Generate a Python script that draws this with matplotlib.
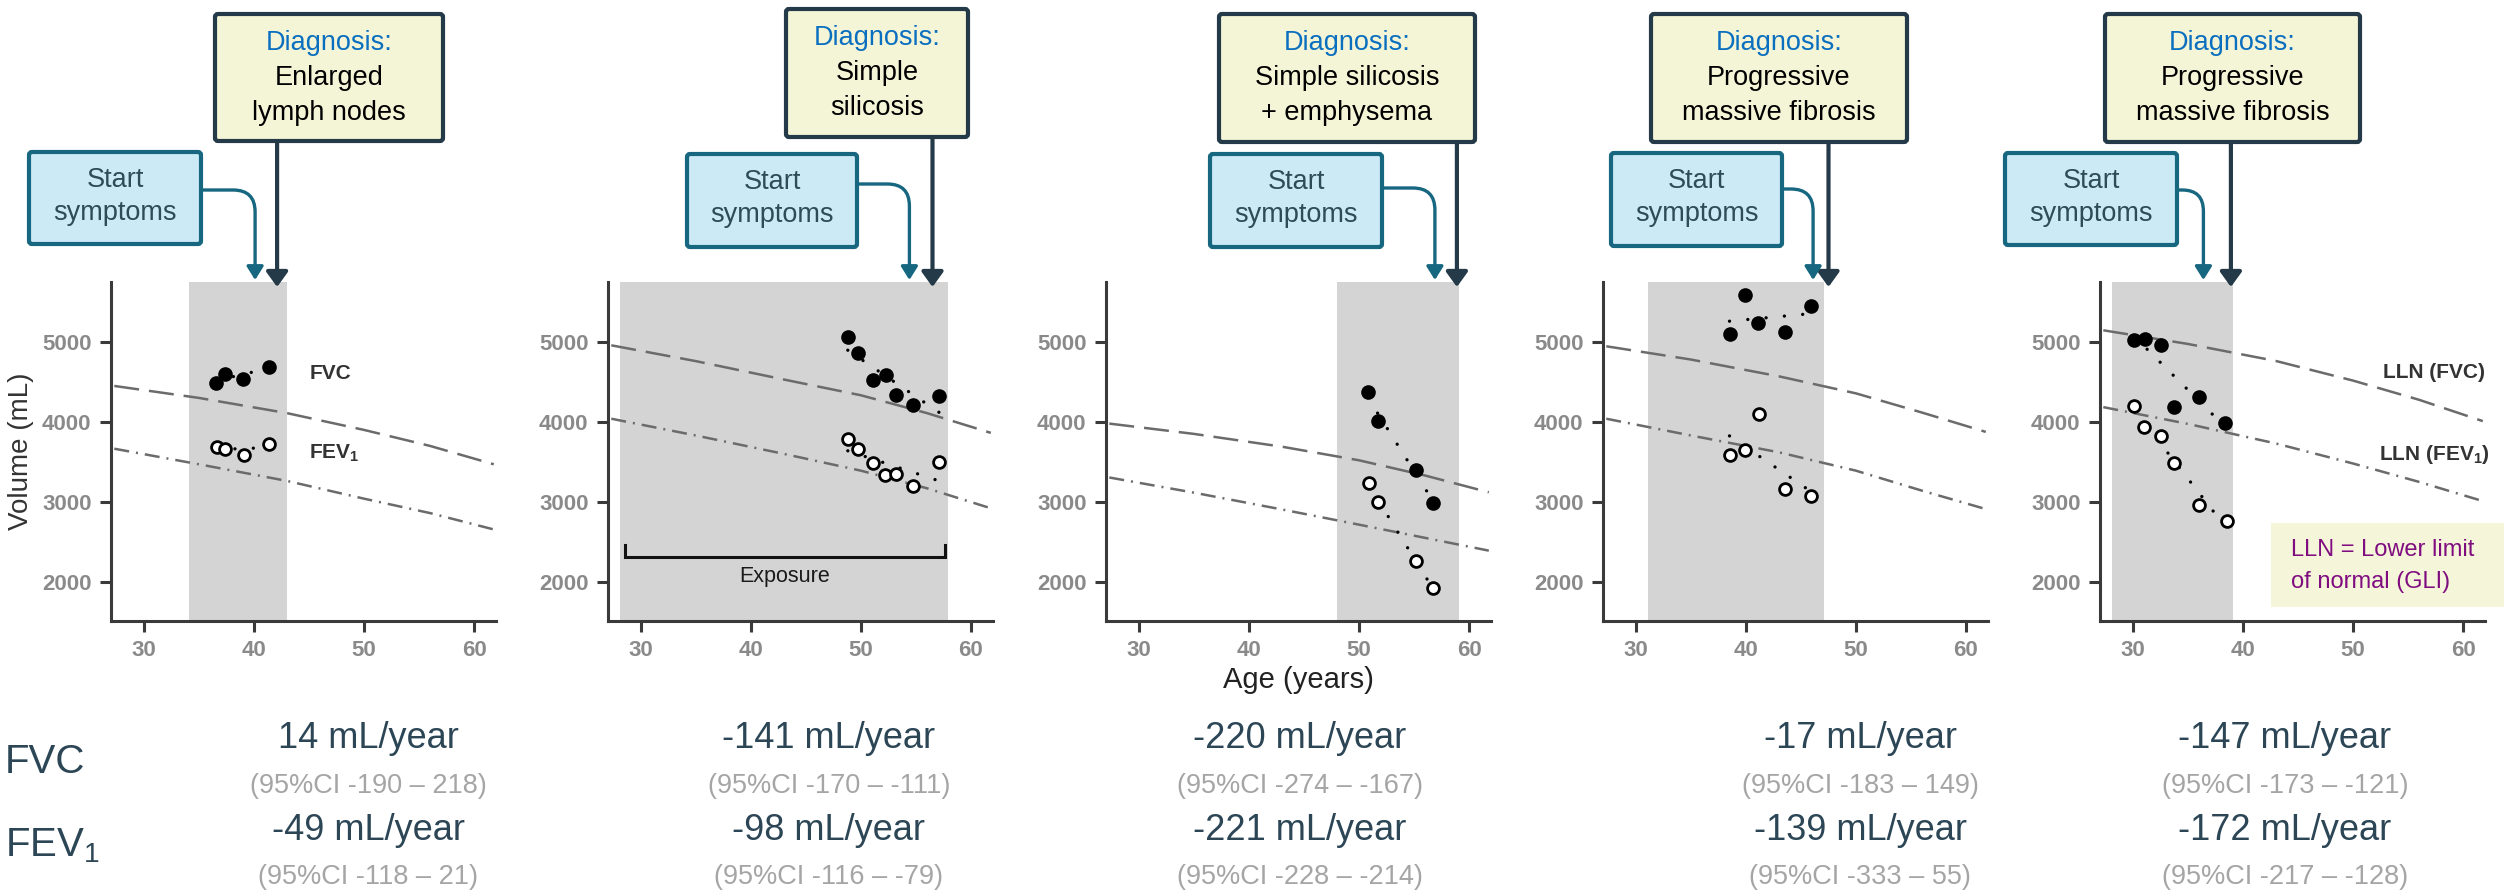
import numpy as np
import matplotlib.pyplot as plt
from matplotlib.patches import FancyBboxPatch, FancyArrowPatch, Rectangle
from matplotlib.path import Path

W, H = 2504, 894
plt.rcParams['font.family'] = ['Liberation Sans', 'DejaVu Sans']
plt.rcParams['mathtext.default'] = 'regular'

# ---------------- data ----------------
diag_text = ['Enlarged\nlymph nodes', 'Simple\nsilicosis', 'Simple silicosis\n+ emphysema',
             'Progressive\nmassive fibrosis', 'Progressive\nmassive fibrosis']
symptom_age = [40.1, 54.4, 56.9, 46.1, 36.4]
diagnosis_age = [42.1, 56.5, 58.9, 47.5, 38.9]
shade_from = [34.1, 28.1, 48.0, 31.1, 28.1]
shade_to = [43.0, 57.9, 59.1, 47.1, 39.1]

fvc_age = [[36.5, 37.4, 39.0, 41.4],
           [48.8, 49.7, 51.1, 52.3, 53.2, 54.7, 57.1],
           [50.8, 51.7, 55.2, 56.7],
           [38.5, 39.9, 41.1, 43.5, 45.9],
           [30.1, 31.1, 32.5, 33.7, 36.0, 38.4]]
fvc_val = [[4490, 4605, 4542, 4688],
           [5062, 4867, 4521, 4592, 4333, 4208, 4325],
           [4375, 4009, 3396, 2992],
           [5104, 5592, 5242, 5121, 5450],
           [5029, 5042, 4958, 4188, 4313, 3992]]
fev1_age = [[36.6, 37.4, 39.1, 41.4],
            [48.8, 49.7, 51.1, 52.2, 53.2, 54.7, 57.1],
            [50.9, 51.7, 55.2, 56.7],
            [38.5, 39.9, 41.2, 43.5, 45.9],
            [30.1, 31.0, 32.5, 33.7, 36.0, 38.5]]
fev1_val = [[3688, 3667, 3584, 3721],
            [3792, 3659, 3488, 3342, 3354, 3196, 3496],
            [3230, 3000, 2263, 1917],
            [3592, 3646, 4096, 3167, 3075],
            [4196, 3938, 3825, 3492, 2967, 2763]]

lln_age = [27.3, 35, 43, 50, 56, 61.8]
lln_fvc = [[4450, 4300, 4110, 3900, 3700, 3470],
           [4958, 4760, 4530, 4333, 4110, 3863],
           [3979, 3850, 3690, 3520, 3330, 3120],
           [4946, 4780, 4570, 4357, 4117, 3875],
           [5146, 4975, 4762, 4517, 4277, 4010]]
lln_fev1 = [[3665, 3470, 3262, 3040, 2860, 2655],
            [4040, 3830, 3600, 3390, 3170, 2920],
            [3305, 3115, 2905, 2715, 2550, 2390],
            [4040, 3830, 3620, 3390, 3140, 2910],
            [4185, 3975, 3730, 3480, 3250, 3010]]

fvc_slope = ['14 mL/year', '-141 mL/year', '-220 mL/year', '-17 mL/year', '-147 mL/year']
fvc_ci = ['(95%CI -190 – 218)', '(95%CI -170 – -111)', '(95%CI -274 – -167)',
          '(95%CI -183 – 149)', '(95%CI -173 – -121)']
fev1_slope = ['-49 mL/year', '-98 mL/year', '-221 mL/year', '-139 mL/year', '-172 mL/year']
fev1_ci = ['(95%CI -118 – 21)', '(95%CI -116 – -79)', '(95%CI -228 – -214)',
           '(95%CI -333 – 55)', '(95%CI -217 – -128)']

exposure_span = (28.5, 57.6)
exposure_y = 2312

# ---------------- layout (pixels) ----------------
ax_left = [111, 608, 1106, 1603, 2100]
ax_w, ax_top, ax_bot = 385, 282, 621
diag_box = [(215, 14, 443, 141), (786, 9, 968, 137), (1219, 14, 1475, 142),
            (1651, 14, 1907, 142), (2105, 14, 2360, 142)]
start_box = [(29, 152, 201, 244), (687, 154, 857, 247), (1210, 154, 1382, 247),
             (1611, 153, 1782, 246), (2005, 153, 2177, 245)]
conn_y = [190, 184, 188, 189, 190]
col_x = [368, 829, 1300, 1860, 2285]

DARK = '#243A48'
TEAL = '#176780'
LLN_C = '#6B6B6B'

fig = plt.figure(figsize=(W / 100, H / 100), dpi=100)

axes = []
for i in range(5):
    ax = fig.add_axes([ax_left[i] / W, (H - ax_bot) / H, ax_w / W, (ax_bot - ax_top) / H])
    axes.append(ax)
    ax.set_xlim(27, 62)
    ax.set_ylim(1510, 5750)
    ax.axvspan(shade_from[i], shade_to[i], color='#D4D4D4', lw=0, zorder=0)

    ax.plot(lln_age, lln_fvc[i], color=LLN_C, lw=1.8, dashes=(10, 4), zorder=2)
    ax.plot(lln_age, lln_fev1[i], color=LLN_C, lw=1.8, dashes=(6, 2.8, 0.8, 2.8), zorder=2)

    for xa, ya, filled in ((fvc_age[i], fvc_val[i], True), (fev1_age[i], fev1_val[i], False)):
        c = np.polyfit(xa, ya, 1)
        xs = np.array([min(xa), max(xa)])
        ax.plot(xs, np.polyval(c, xs), color='black', lw=2.4, linestyle=(0, (0.01, 5.5)),
                dash_capstyle='round', zorder=3)
        if filled:
            ax.plot(xa, ya, 'o', ms=9.5, mfc='black', mec='black', zorder=4)
        else:
            ax.plot(xa, ya, 'o', ms=8.5, mfc='white', mec='black', mew=2, zorder=4)

    ax.set_xticks([30, 40, 50, 60])
    ax.set_yticks([2000, 3000, 4000, 5000])
    for s in ('top', 'right'):
        ax.spines[s].set_visible(False)
    for s in ('left', 'bottom'):
        ax.spines[s].set_color('#3A3A3A')
        ax.spines[s].set_linewidth(2.2)
    ax.tick_params(length=8, width=2.2, color='#3A3A3A', labelsize=16, labelcolor='#8A8A8A', pad=6)
    for lab in ax.get_xticklabels() + ax.get_yticklabels():
        lab.set_fontweight('bold')
    ax.patch.set_alpha(0)

axes[0].set_ylabel('Volume (mL)', fontsize=20, color='#333333', labelpad=6)
axes[2].set_xlabel('Age (years)', fontsize=21, color='#222222', labelpad=3)

lab_kw = dict(fontsize=15, color='#333333', va='center', fontweight='bold')
axes[0].text(45.1, 4610, 'FVC', ha='left', **lab_kw)
axes[0].text(45.0, 3610, 'FEV$_1$', ha='left', **lab_kw)
axes[4].text(57.4, 4620, 'LLN (FVC)', ha='center', **lab_kw)
axes[4].text(57.4, 3595, 'LLN (FEV$_1$)', ha='center', **lab_kw)

x0, x1 = exposure_span
axes[1].plot([x0, x0, x1, x1], [exposure_y + 150, exposure_y, exposure_y, exposure_y + 150],
             color='#111111', lw=2.2, solid_joinstyle='miter', zorder=3)
axes[1].text((x0 + x1) / 2, exposure_y - 250, 'Exposure', fontsize=15.5, color='#1A1A1A',
             ha='center', va='center')

# ---------------- overlay in pixel coordinates ----------------
ov = fig.add_axes([0, 0, 1, 1], zorder=10)
ov.set_xlim(0, W)
ov.set_ylim(H, 0)
ov.axis('off')

for i in range(5):
    ax = axes[i]
    px_d = ax.transData.transform((diagnosis_age[i], 3000))[0]
    px_s = ax.transData.transform((symptom_age[i], 3000))[0]

    l, t, r, b = diag_box[i]
    ov.add_patch(FancyBboxPatch((l, t), r - l, b - t, boxstyle='round,pad=0,rounding_size=3',
                                fc='#F4F5D6', ec=DARK, lw=3, zorder=5))
    cx = (l + r) / 2
    ov.text(cx, t + 29, 'Diagnosis:', fontsize=19.5, color='#0B6FBF', ha='center', va='center', zorder=6)
    for k, line in enumerate(diag_text[i].split('\n')):
        ov.text(cx, t + 64 + 35 * k, line, fontsize=19.5, color='black', ha='center', va='center', zorder=6)
    ov.add_patch(FancyArrowPatch((px_d, b), (px_d, 287),
                                 arrowstyle='-|>,head_width=0.65,head_length=0.9',
                                 mutation_scale=10, lw=3, color=DARK,
                                 shrinkA=0, shrinkB=0, zorder=4))

    l, t, r, b = start_box[i]
    ov.add_patch(FancyBboxPatch((l, t), r - l, b - t, boxstyle='round,pad=0,rounding_size=3',
                                fc='#CCEAF5', ec=TEAL, lw=3, zorder=5))
    cx = (l + r) / 2
    ov.text(cx, t + 28, 'Start', fontsize=19.5, color='#2F4B5A', ha='center', va='center', zorder=6)
    ov.text(cx, t + 61, 'symptoms', fontsize=19.5, color='#2F4B5A', ha='center', va='center', zorder=6)
    rad = min(22, (px_s - r) * 0.8)
    yc = conn_y[i]
    path = Path([(r, yc), (px_s - rad, yc), (px_s, yc), (px_s, yc + rad), (px_s, 280)],
                [Path.MOVETO, Path.LINETO, Path.CURVE3, Path.CURVE3, Path.LINETO])
    ov.add_patch(FancyArrowPatch(path=path, arrowstyle='-|>,head_width=0.5,head_length=0.8',
                                 mutation_scale=10, lw=2.4, color=TEAL, zorder=4))

    # slope texts
    ov.text(col_x[i], 739, fvc_slope[i], fontsize=26, color='#2C4656', ha='center', va='center')
    ov.text(col_x[i], 786, fvc_ci[i], fontsize=19.5, color='#A5A5A5', ha='center', va='center')
    ov.text(col_x[i], 830, fev1_slope[i], fontsize=26, color='#2C4656', ha='center', va='center')
    ov.text(col_x[i], 877, fev1_ci[i], fontsize=19.5, color='#A5A5A5', ha='center', va='center')

ov.text(5, 762, 'FVC', fontsize=29, color='#2C4656', ha='left', va='center')
ov.text(5, 846, 'FEV$_1$', fontsize=29, color='#2C4656', ha='left', va='center')

ov.add_patch(Rectangle((2271, 523), 233, 84, fc='#F5F5DA', ec='none', zorder=5))
ov.text(2291, 550, 'LLN = Lower limit', fontsize=17, color='#800D80', ha='left', va='center', zorder=6)
ov.text(2291, 582, 'of normal (GLI)', fontsize=17, color='#800D80', ha='left', va='center', zorder=6)

fig.savefig('out.png', dpi=100, facecolor='white')
